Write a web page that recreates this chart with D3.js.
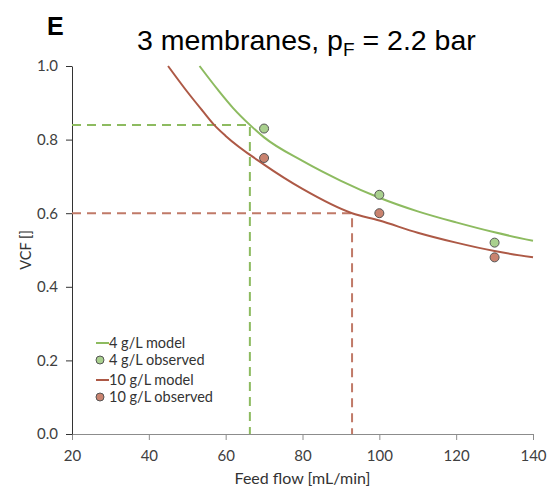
<!DOCTYPE html>
<html>
<head>
<meta charset="utf-8">
<script src="https://cdn.jsdelivr.net/npm/d3@7"></script>
<style>
  body { margin: 0; background: #fff; }
  svg { display: block; }
  .axis text { font-family: Lato, "Open Sans", sans-serif; font-size: 15px; fill: #404040; }
  .x-axis path, .x-axis line { stroke: #8c8c8c; }
  .y-axis path, .y-axis line { stroke: #333; }
</style>
</head>
<body>
<div id="chart"></div>
<script>
// model curves
const flow4Model = [53.2, 58, 62, 66.3, 70, 80, 90, 100, 110, 120, 130, 140];
const vcf4Model = [1.0, 0.935, 0.885, 0.84, 0.806, 0.742, 0.688, 0.642, 0.605, 0.575, 0.548, 0.525];
const flow10Model = [45, 50, 54, 57, 60, 70, 80, 92.9, 100, 110, 120, 130, 140];
const vcf10Model = [1.0, 0.93, 0.878, 0.84, 0.81, 0.732, 0.666, 0.6, 0.58, 0.547, 0.52, 0.497, 0.48];

// observed points
const flowObs = [70, 100, 130];
const vcf4Obs = [0.83, 0.65, 0.52];
const vcf10Obs = [0.75, 0.60, 0.48];

// guide lines (flow needed to reach a given VCF)
const guide4 = {flow: 66.3, vcf: 0.84};
const guide10 = {flow: 92.9, vcf: 0.60};

const xTicks = [20, 40, 60, 80, 100, 120, 140];
const yTicks = [0, 0.2, 0.4, 0.6, 0.8, 1.0];

const green = "#8dbb60", red = "#ad5946";
const greenFill = "#a9d08e", redFill = "#c9836f";
const redDash = "#c07a68";

const width = 551, height = 488;
const margin = {top: 66, right: 18, bottom: 54, left: 72};

const svg = d3.select("#chart").append("svg")
  .attr("width", width)
  .attr("height", height);

const x = d3.scaleLinear().domain([20, 140]).range([margin.left, width - margin.right]);
const y = d3.scaleLinear().domain([0, 1]).range([height - margin.bottom, margin.top]);

// axes
svg.append("g")
  .attr("class", "axis x-axis")
  .attr("transform", "translate(0," + y(0) + ")")
  .call(d3.axisBottom(x).tickValues(xTicks).tickSize(6).tickSizeOuter(0).tickFormat(d3.format("d")))
  .call(g => g.selectAll("text").attr("dy", "1.2em"));

svg.append("g")
  .attr("class", "axis y-axis")
  .attr("transform", "translate(" + x(20) + ",0)")
  .call(d3.axisLeft(y).tickValues(yTicks).tickSize(6).tickSizeOuter(0).tickFormat(d3.format(".1f")))
  .call(g => g.selectAll("text").attr("x", -14));

// dashed guides
function guide(gd, color) {
  svg.append("path")
    .attr("d", "M" + x(20) + "," + y(gd.vcf) + "H" + x(gd.flow) + "V" + y(0))
    .attr("fill", "none")
    .attr("stroke", color)
    .attr("stroke-width", 2)
    .attr("stroke-dasharray", "9,6");
}
guide(guide4, green);
guide(guide10, redDash);

// model lines
const line = d3.line()
  .x(d => x(d[0]))
  .y(d => y(d[1]))
  .curve(d3.curveMonotoneX);

svg.append("path")
  .datum(d3.zip(flow10Model, vcf10Model))
  .attr("d", line)
  .attr("fill", "none")
  .attr("stroke", red)
  .attr("stroke-width", 2);

svg.append("path")
  .datum(d3.zip(flow4Model, vcf4Model))
  .attr("d", line)
  .attr("fill", "none")
  .attr("stroke", green)
  .attr("stroke-width", 2);

// observed points
function points(vals, fill) {
  svg.append("g").selectAll("circle")
    .data(d3.zip(flowObs, vals))
    .join("circle")
    .attr("cx", d => x(d[0]))
    .attr("cy", d => y(d[1]))
    .attr("r", 4.5)
    .attr("fill", fill)
    .attr("stroke", "#555")
    .attr("stroke-width", 1);
}
points(vcf4Obs, greenFill);
points(vcf10Obs, redFill);

// legend
const legendItems = [
  {label: "4 g/L model", type: "line", color: green},
  {label: "4 g/L observed", type: "dot", color: greenFill},
  {label: "10 g/L model", type: "line", color: red},
  {label: "10 g/L observed", type: "dot", color: redFill}
];
const legendY = [343, 360, 380, 397];
const legend = svg.append("g");
legendItems.forEach((d, i) => {
  const g = legend.append("g").attr("transform", "translate(96," + legendY[i] + ")");
  if (d.type === "line") {
    g.append("line").attr("x1", 0).attr("x2", 13).attr("y1", 0).attr("y2", 0)
      .attr("stroke", d.color).attr("stroke-width", 2);
  } else {
    g.append("circle").attr("cx", 4).attr("cy", 0).attr("r", 4)
      .attr("fill", d.color).attr("stroke", "#555").attr("stroke-width", 1);
  }
  g.append("text")
    .attr("x", 13)
    .attr("dy", "0.35em")
    .style("font-family", "Lato, 'Open Sans', sans-serif")
    .style("font-size", "14.5px")
    .style("fill", "#333")
    .text(d.label);
});

// axis titles
svg.append("text")
  .attr("x", (x(20) + x(140)) / 2)
  .attr("y", 484)
  .attr("text-anchor", "middle")
  .style("font-family", "Lato, 'Open Sans', sans-serif")
  .style("font-size", "16px")
  .style("fill", "#333")
  .text("Feed flow [mL/min]");

svg.append("text")
  .attr("transform", "translate(31," + (y(0.5)) + ") rotate(-90)")
  .attr("text-anchor", "middle")
  .style("font-family", "Lato, 'Open Sans', sans-serif")
  .style("font-size", "14.5px")
  .style("fill", "#333")
  .text("VCF []");

// panel letter and title
svg.append("text")
  .attr("x", 47)
  .attr("y", 35)
  .style("font-family", "'Liberation Sans', Arial, sans-serif")
  .style("font-weight", "bold")
  .style("font-size", "25px")
  .text("E");

const title = svg.append("text")
  .attr("x", 137)
  .attr("y", 50)
  .style("font-family", "'Liberation Sans', Arial, sans-serif")
  .style("font-size", "28.5px")
  .style("fill", "#000");
title.append("tspan").text("3 membranes, p");
title.append("tspan").attr("dy", 6).style("font-size", "19px").text("F");
title.append("tspan").attr("dy", -6).text(" = 2.2 bar");
</script>
</body>
</html>
